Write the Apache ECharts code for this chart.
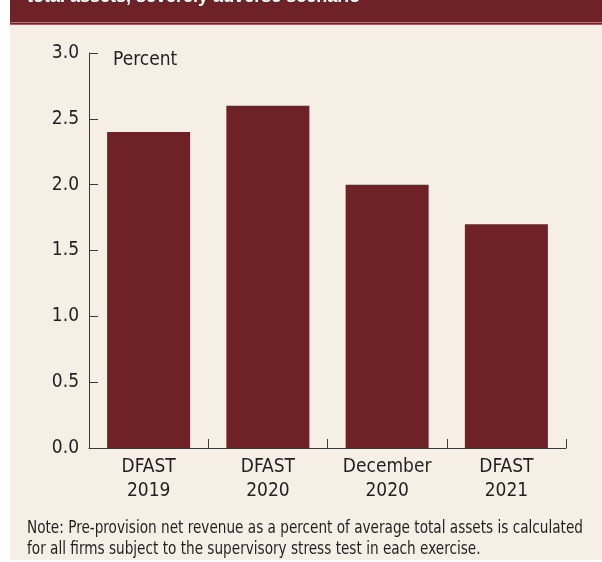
<!DOCTYPE html>
<html>
<head>
<meta charset="utf-8">
<script src="https://cdn.jsdelivr.net/npm/echarts@6/dist/echarts.min.js"></script>
<style>
  html, body { margin: 0; padding: 0; background: #ffffff; }
  #chart { width: 602px; height: 562px; }
</style>
</head>
<body>
<div id="chart"></div>
<script>
// Pre-provision net revenue, percent of average total assets
const categories = ['DFAST\n2019', 'DFAST\n2020', 'December\n2020', 'DFAST\n2021'];
const ppnrValues = [2.4, 2.6, 2.0, 1.7];
const yTicks = [0, 0.5, 1.0, 1.5, 2.0, 2.5, 3.0];

const title = 'total assets, severely adverse scenario';
const unitLabel = 'Percent';
const noteLines = [
  'Note: Pre-provision net revenue as a percent of average total assets is calculated',
  'for all firms subject to the supervisory stress test in each exercise.'
];

const MAROON = '#6e2127';
const CREAM = '#f6efe6';
const INK = '#231f20';
const NARROW = '"DejaVu Sans Condensed", "Liberation Sans", sans-serif';
const NOTE_FONT = '17px ' + NARROW;

// squeeze the note horizontally so its first line spans the panel text width
const measureCtx = document.createElement('canvas').getContext('2d');
measureCtx.font = NOTE_FONT;
const noteScale = 556 / measureCtx.measureText(noteLines[0]).width;

const chart = echarts.init(document.getElementById('chart'), null, { renderer: 'canvas' });

chart.setOption({
  animation: false,
  backgroundColor: '#ffffff',
  graphic: [
    { type: 'rect', z: -10, shape: { x: 10, y: 0, width: 592, height: 560 }, style: { fill: CREAM } },
    { type: 'rect', z: -5, shape: { x: 10, y: 0, width: 592, height: 22 }, style: { fill: MAROON } },
    { type: 'rect', z: -5, shape: { x: 10, y: 22, width: 592, height: 1 }, style: { fill: '#b07a7c' } },
    { type: 'rect', z: -5, shape: { x: 10, y: 23, width: 592, height: 1 }, style: { fill: MAROON } },
    { type: 'rect', z: -5, shape: { x: 10, y: 24, width: 592, height: 1 }, style: { fill: '#a06266' } },
    {
      type: 'text', z: 5, left: 27, top: -12,
      style: { text: title, fill: '#ffffff', font: 'bold 18px "Liberation Sans", Arial, sans-serif' }
    },
    {
      type: 'text', left: 113, top: 51,
      style: { text: unitLabel, fill: INK, font: '19px ' + NARROW }
    },
    {
      type: 'text', x: 27, y: 518, scaleX: noteScale, scaleY: 1,
      style: { text: noteLines.join('\n'), fill: INK, font: NOTE_FONT, lineHeight: 21 }
    }
  ],
  grid: { left: 89, right: 36, top: 53, bottom: 114, containLabel: false },
  xAxis: {
    type: 'category',
    data: categories,
    boundaryGap: true,
    axisLine: { lineStyle: { color: '#3a3a3a', width: 1 } },
    axisTick: { show: true, inside: true, length: 9, alignWithLabel: false, lineStyle: { color: '#3a3a3a' } },
    axisLabel: {
      color: INK, fontFamily: NARROW, fontSize: 19, lineHeight: 24, margin: 7, interval: 0
    },
    splitLine: { show: false }
  },
  yAxis: {
    type: 'value',
    min: 0, max: 3, interval: 0.5,
    axisLine: { show: true, lineStyle: { color: '#3a3a3a', width: 1 } },
    axisTick: { show: true, inside: true, length: 9, lineStyle: { color: '#3a3a3a' } },
    axisLabel: {
      color: INK, fontFamily: NARROW, fontSize: 19, margin: 10,
      formatter: v => yTicks.includes(v) ? v.toFixed(1) : ''
    },
    splitLine: { show: false }
  },
  series: [{
    type: 'bar',
    data: ppnrValues,
    barWidth: 83,
    itemStyle: { color: MAROON },
    emphasis: { disabled: true }
  }]
});
</script>
</body>
</html>
